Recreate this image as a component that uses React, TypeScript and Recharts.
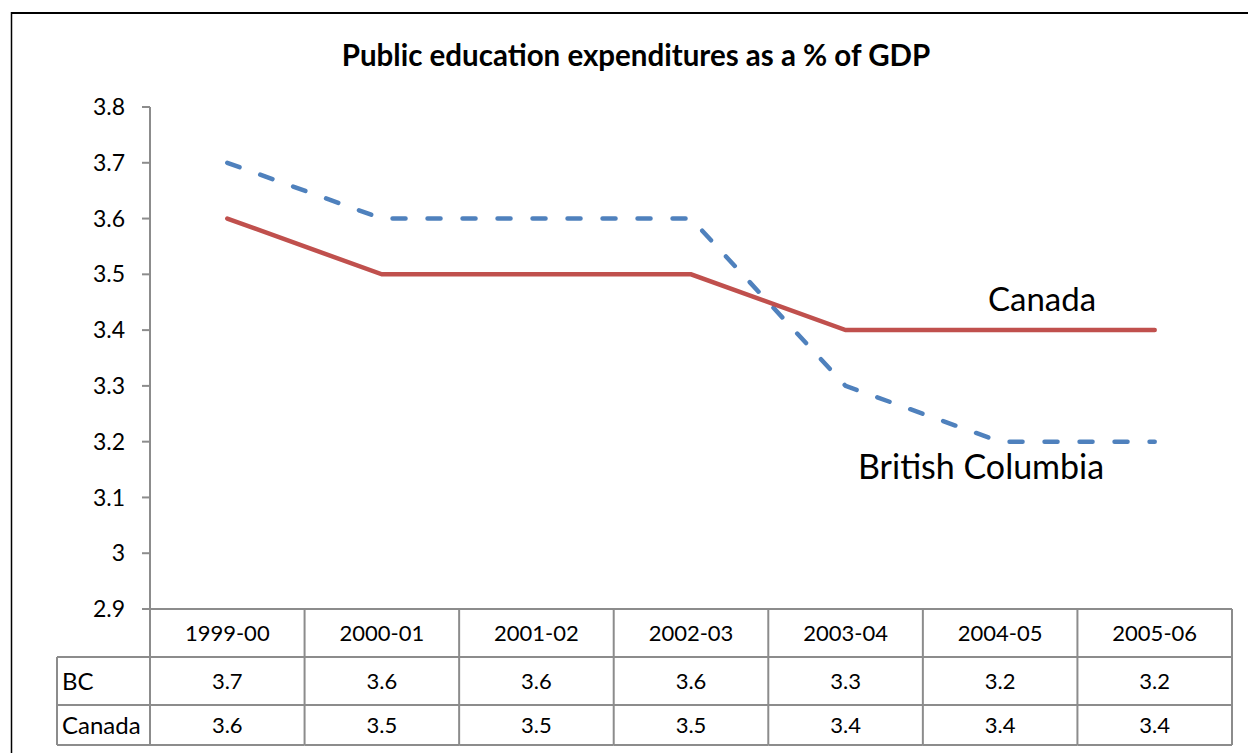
import { Line, LineChart, XAxis, YAxis } from "recharts";

const categories = ["1999-00", "2000-01", "2001-02", "2002-03", "2003-04", "2004-05", "2005-06"];
const bcValues = [3.7, 3.6, 3.6, 3.6, 3.3, 3.2, 3.2];
const canadaValues = [3.6, 3.5, 3.5, 3.5, 3.4, 3.4, 3.4];
const yTicks = [2.9, 3, 3.1, 3.2, 3.3, 3.4, 3.5, 3.6, 3.7, 3.8];
const rowLabels = ["BC", "Canada"];

const data = categories.map((year, i) => ({ year, bc: bcValues[i], canada: canadaValues[i] }));

const W = 1248;
const H = 753;
const FONT = "Lato, 'Noto Sans', sans-serif";
const GRID = "#8c8c8c";
const margin = { top: 107, right: 16, bottom: 0, left: 0 };
const Y_AXIS_W = 150;
const TABLE_H = 144;
const PLOT_BOTTOM = H - TABLE_H; // 609
const BAND = (W - margin.left - margin.right - Y_AXIS_W) / categories.length;
// table rows (header, BC, Canada)
const ROW_Y = [PLOT_BOTTOM, 657, 705, 745];
const LABEL_COL_X = 57;

function TableTick(props: any) {
  const { x, index } = props;
  const left = x - BAND / 2;
  const right = x + BAND / 2;
  const rowVals = [bcValues[index], canadaValues[index]];
  return (
    <g>
      <line x1={left} x2={left} y1={ROW_Y[0]} y2={ROW_Y[3]} stroke={GRID} strokeWidth={2} />
      {index === categories.length - 1 && (
        <line x1={right} x2={right} y1={ROW_Y[0]} y2={ROW_Y[3]} stroke={GRID} strokeWidth={2} />
      )}
      {[1, 2, 3].map((r) => (
        <line key={r} x1={left} x2={right} y1={ROW_Y[r]} y2={ROW_Y[r]} stroke={GRID} strokeWidth={2} />
      ))}
      <text x={x} y={(ROW_Y[0] + ROW_Y[1]) / 2} dy="0.36em" textAnchor="middle" fontSize={22} fontFamily={FONT} fill="#000">
        {categories[index]}
      </text>
      {rowVals.map((v, r) => (
        <text key={r} x={x} y={(ROW_Y[r + 1] + ROW_Y[r + 2]) / 2} dy="0.36em" textAnchor="middle" fontSize={22} fontFamily={FONT} fill="#000">
          {v}
        </text>
      ))}
      {index === 0 && (
        <g>
          <line x1={LABEL_COL_X} x2={LABEL_COL_X} y1={ROW_Y[1]} y2={ROW_Y[3]} stroke={GRID} strokeWidth={2} />
          {[1, 2, 3].map((r) => (
            <line key={r} x1={LABEL_COL_X} x2={left} y1={ROW_Y[r]} y2={ROW_Y[r]} stroke={GRID} strokeWidth={2} />
          ))}
          {rowLabels.map((lab, r) => (
            <text key={lab} x={LABEL_COL_X + 5} y={(ROW_Y[r + 1] + ROW_Y[r + 2]) / 2} dy="0.36em" fontSize={24} fontFamily={FONT} fill="#000">
              {lab}
            </text>
          ))}
        </g>
      )}
    </g>
  );
}

export default function App() {
  return (
    <div style={{ position: "absolute", left: 0, top: 0, width: W, height: H, background: "#fff", overflow: "hidden" }}>
      <svg width={W} height={H} style={{ position: "absolute", left: 0, top: 0 }}>
        <line x1={11} x2={W} y1={13} y2={13} stroke="#000" strokeWidth={2} />
        <line x1={11.5} x2={11.5} y1={12} y2={H} stroke="#000" strokeWidth={1.5} />
        <text x={636} y={66} textAnchor="middle" fontSize={29.5} fontWeight={700} fontFamily={FONT} fill="#000">
          Public education expenditures as a % of GDP
        </text>
        <text x={988} y={311} fontSize={33} fontFamily={FONT} fill="#000">
          Canada
        </text>
        <text x={858} y={479} fontSize={34} fontFamily={FONT} fill="#000">
          British Columbia
        </text>
      </svg>
      <div style={{ position: "absolute", left: 0, top: 0 }}>
        <LineChart width={W} height={H} data={data} margin={margin}>
          <XAxis
            dataKey="year"
            scale="band"
            interval={0}
            height={TABLE_H}
            axisLine={{ stroke: GRID, strokeWidth: 2 }}
            tickLine={false}
            tick={<TableTick />}
          />
          <YAxis
            width={Y_AXIS_W}
            domain={[2.9, 3.8]}
            ticks={yTicks}
            interval={0}
            tickSize={8}
            tickMargin={17}
            axisLine={{ stroke: GRID, strokeWidth: 2 }}
            tickLine={{ stroke: GRID, strokeWidth: 2 }}
            tick={{ fill: "#000", fontSize: 23, fontFamily: FONT }}
          />
          <Line
            dataKey="bc"
            type="linear"
            stroke="#4F81BD"
            strokeWidth={4.5}
            strokeDasharray="13 22"
            strokeLinecap="round"
            dot={false}
            isAnimationActive={false}
          />
          <Line
            dataKey="canada"
            type="linear"
            stroke="#C0504D"
            strokeWidth={4.5}
            strokeLinecap="round"
            dot={false}
            isAnimationActive={false}
          />
        </LineChart>
      </div>
    </div>
  );
}
